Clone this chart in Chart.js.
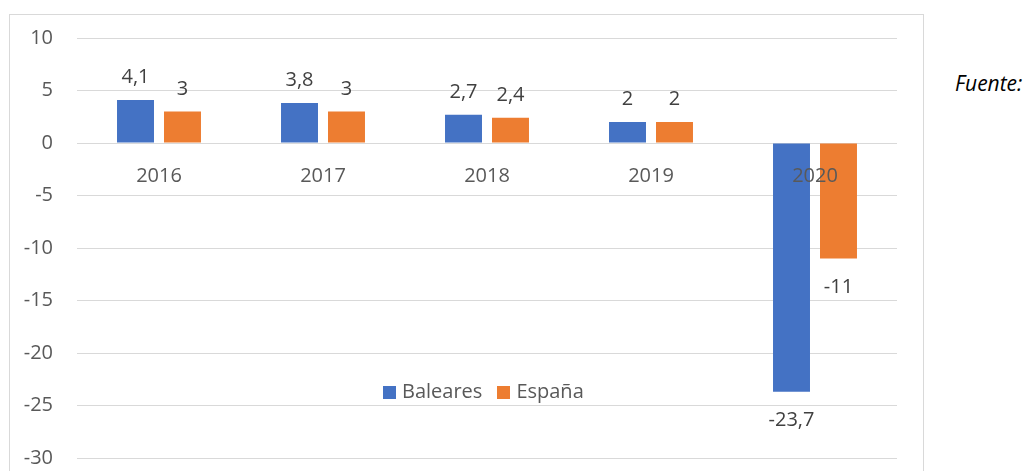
<!DOCTYPE html>
<html>
<head>
<meta charset="utf-8">
<script src="https://cdn.jsdelivr.net/npm/chart.js@4"></script>
<style>
  body { margin: 0; background: #fff; width: 1026px; height: 471px; overflow: hidden; position: relative; font-family: "Open Sans", sans-serif; }
  #frame { position: absolute; left: 9px; top: 14px; width: 913px; height: 480px; border: 1px solid #d9d9d9; }
  #chart { position: absolute; left: 10px; top: 15px; }
  #legend { position: absolute; left: 383px; top: 379px; display: flex; font-size: 20px; line-height: 1.2; color: #595959; }
  #legend .item { display: flex; align-items: center; margin-right: 15px; }
  #legend .box { width: 13px; height: 13px; margin-right: 6px; margin-top: 2px; }
  #source { position: absolute; left: 955px; top: 71px; font-size: 21px; font-style: italic; line-height: 1.2; color: #000; white-space: nowrap; }
</style>
</head>
<body>
<div id="frame"></div>
<canvas id="chart" width="913" height="456"></canvas>
<div id="legend"></div>
<div id="source">Fuente:</div>
<script>
const years = ['2016', '2017', '2018', '2019', '2020'];
const baleares = [4.1, 3.8, 2.7, 2, -23.7];
const espana = [3, 3, 2.4, 2, -11];
const seriesNames = ['Baleares', 'España'];
const seriesColors = ['#4472C4', '#ED7D31'];

// value labels above / below each bar, decimal comma
const valueLabels = {
    id: 'valueLabels',
    afterDatasetsDraw(chart) {
        const ctx = chart.ctx;
        ctx.save();
        ctx.font = '20px "Open Sans"';
        ctx.fillStyle = '#404040';
        ctx.textAlign = 'center';
        ctx.textBaseline = 'alphabetic';
        chart.data.datasets.forEach((ds, i) => {
            chart.getDatasetMeta(i).data.forEach((bar, j) => {
                const v = ds.data[j];
                const y = v >= 0 ? bar.y - 17 : bar.y + 34;
                ctx.fillText(String(v).replace('.', ','), bar.x, y);
            });
        });
        ctx.restore();
    }
};

function draw() {
    Chart.defaults.font.family = '"Open Sans"';
    Chart.defaults.font.size = 20;
    Chart.defaults.color = '#595959';

    const chart = new Chart(document.getElementById('chart'), {
        type: 'bar',
        data: {
            labels: years,
            datasets: [
                { label: seriesNames[0], data: baleares, backgroundColor: seriesColors[0] },
                { label: seriesNames[1], data: espana, backgroundColor: seriesColors[1] }
            ]
        },
        options: {
            responsive: false,
            animation: false,
            categoryPercentage: 0.573,
            barPercentage: 0.787,
            layout: { padding: { left: 0, right: 26, top: 23, bottom: 13 } },
            scales: {
                x: {
                    position: { y: 0 },
                    grid: { display: false, drawTicks: false },
                    border: { display: false },
                    ticks: { padding: 21, color: '#595959', z: 1 },
                    afterFit: (scale) => { scale.height = 0; }
                },
                y: {
                    min: -30,
                    max: 10,
                    // tick padding also pads top/bottom, so use invisible tick marks for the gap
                    ticks: { stepSize: 5, padding: 0, color: '#595959' },
                    grid: { color: '#d9d9d9', lineWidth: 1, drawTicks: true, tickLength: 24, tickColor: 'rgba(0,0,0,0)' },
                    border: { display: false },
                    afterFit: (scale) => { scale.width = 67; }
                }
            },
            plugins: {
                legend: { display: false },
                tooltip: { enabled: false }
            }
        },
        plugins: [valueLabels]
    });

    // legend in the middle of the plot, like the original
    const legend = document.getElementById('legend');
    chart.data.datasets.forEach(ds => {
        const item = document.createElement('span');
        item.className = 'item';
        item.innerHTML = `<span class="box" style="background:${ds.backgroundColor}"></span>${ds.label}`;
        legend.appendChild(item);
    });
}

document.fonts.load('20px "Open Sans"').then(draw, draw);
</script>
</body>
</html>
